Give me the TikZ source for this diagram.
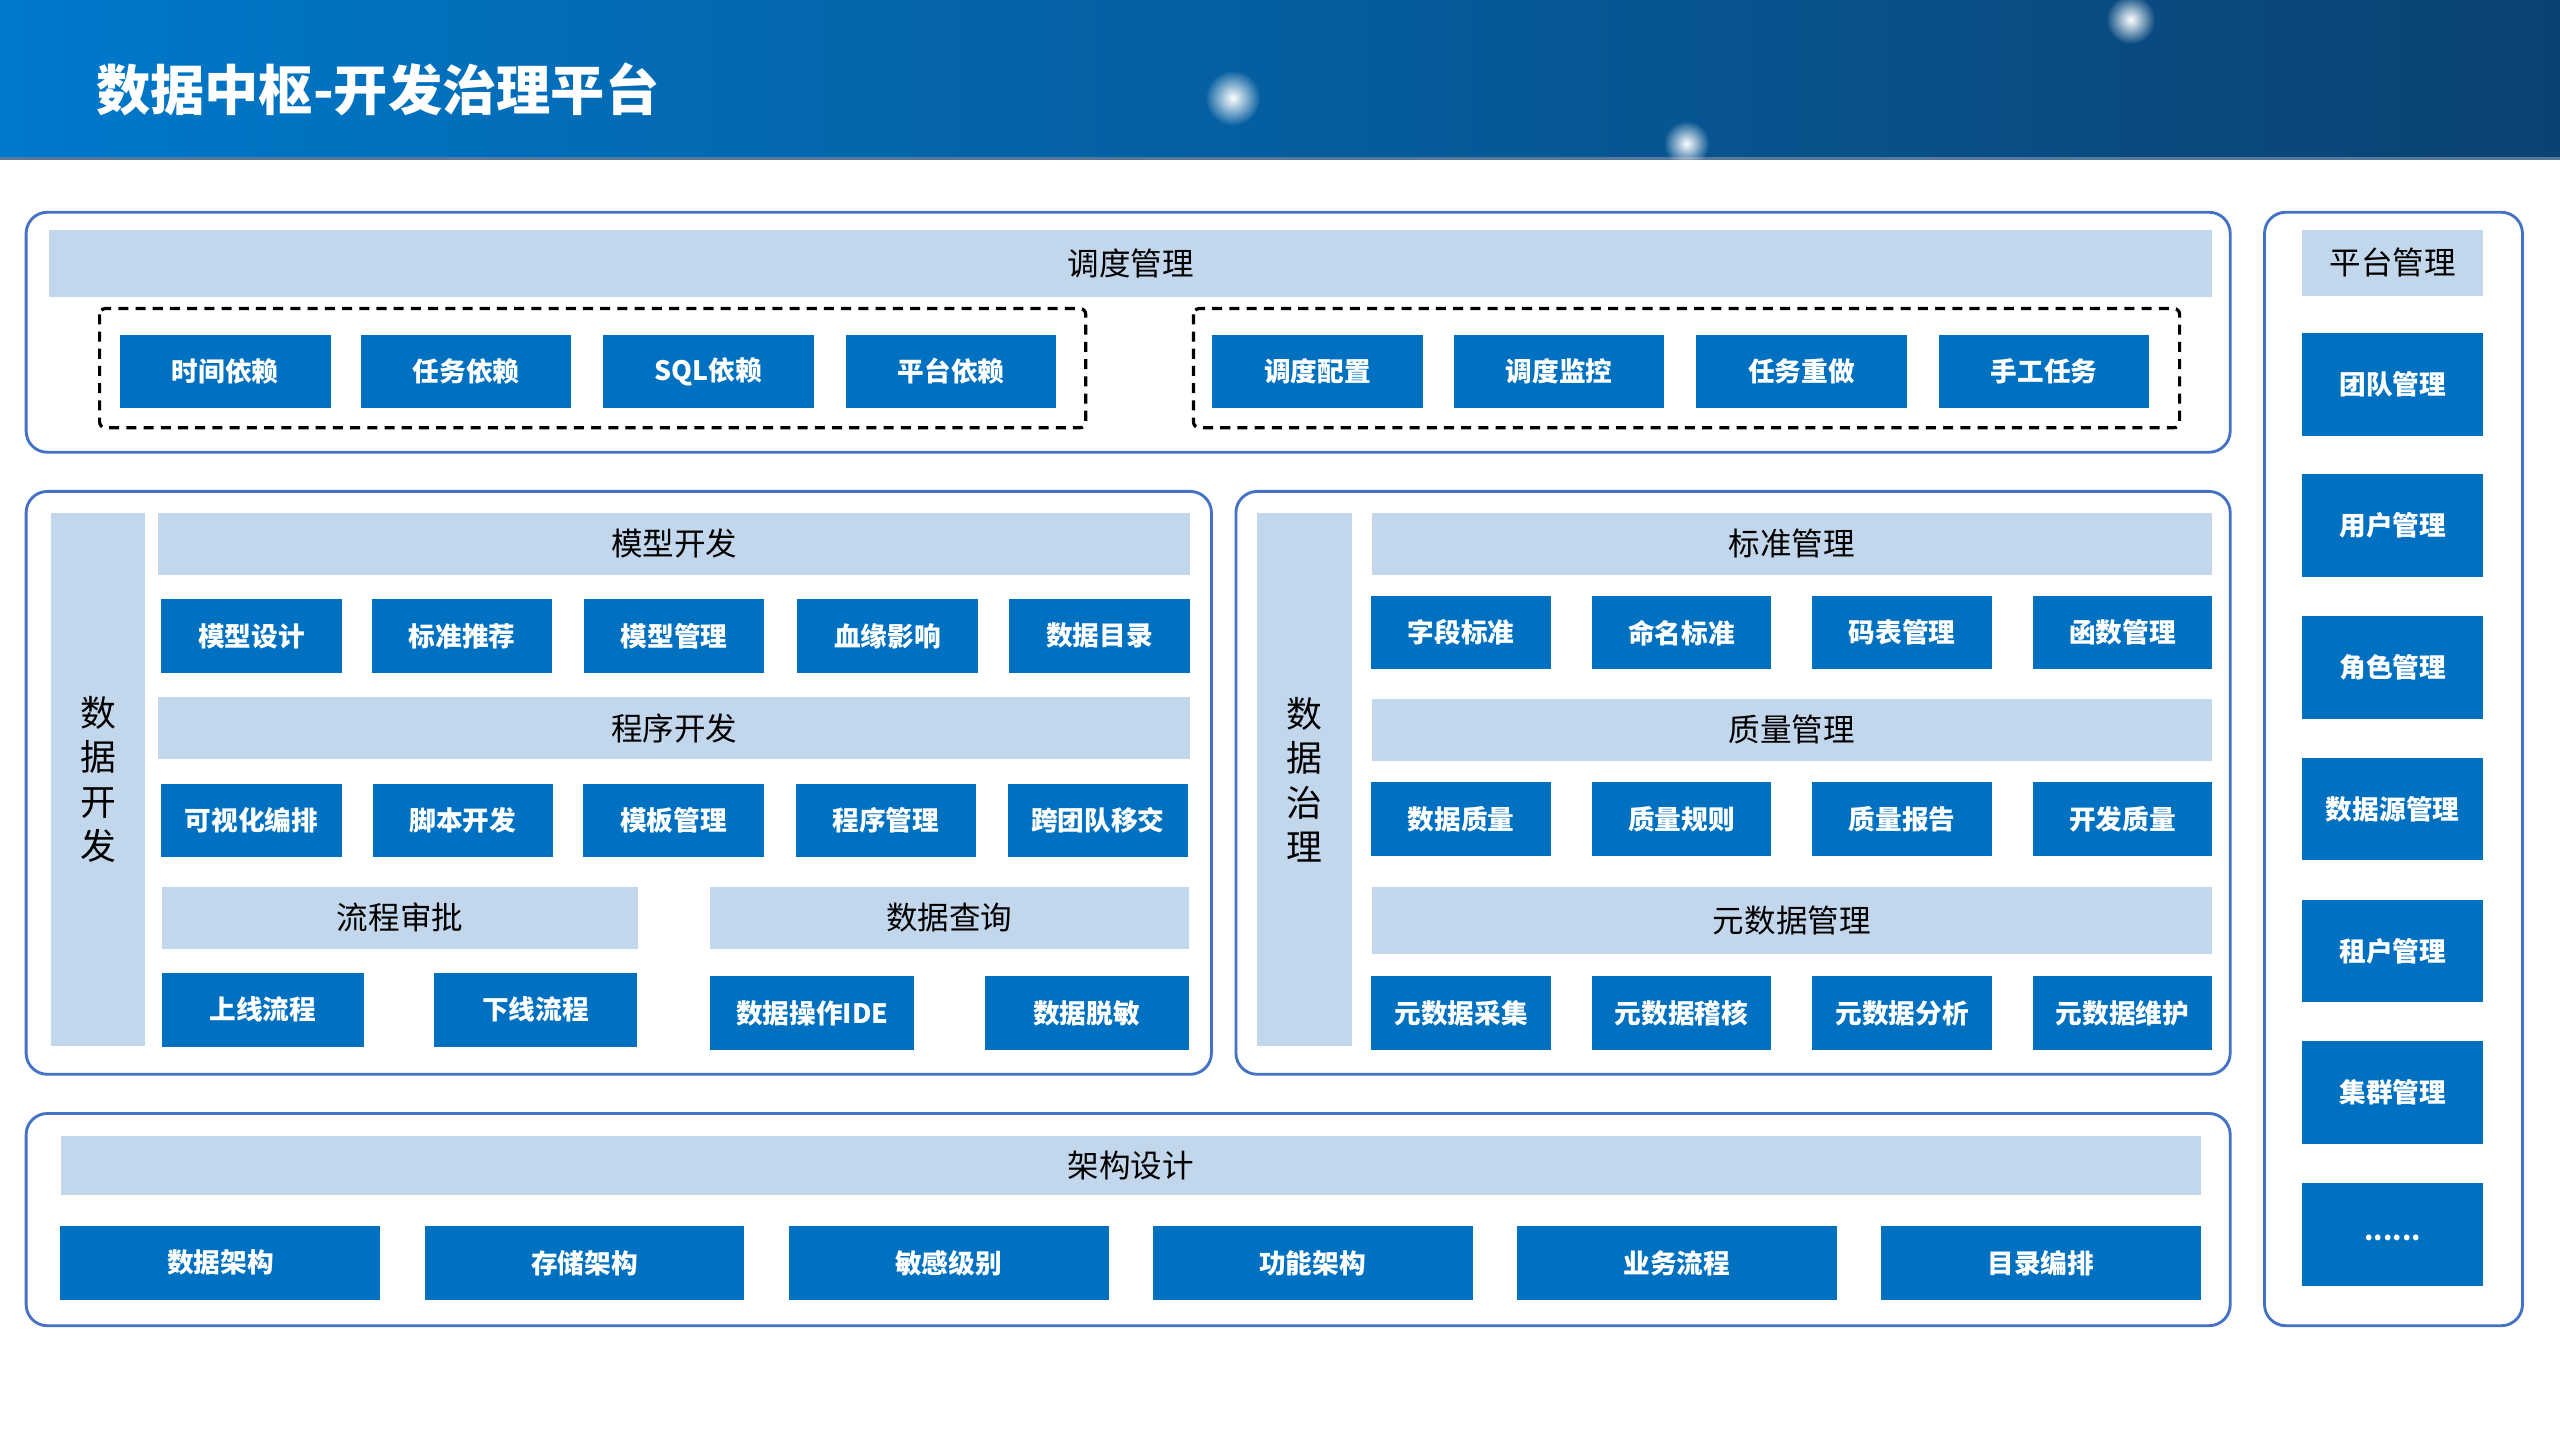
\documentclass[tikz,border=0pt]{standalone}
\usepackage{fontspec}
\usetikzlibrary{fadings}
\newfontfamily\cjk{Noto Sans CJK SC}
\definecolor{btnblue}{HTML}{0070C0}
\definecolor{barblue}{HTML}{C3D7EC}
\definecolor{lineblue}{HTML}{4472C4}
\definecolor{headleft}{HTML}{0079CB}
\definecolor{headmid}{HTML}{0067B2}
\definecolor{headright}{HTML}{0B4272}
\definecolor{headedge}{HTML}{56789A}
\tikzfading[name=glow, inner color=transparent!0, outer color=transparent!100]

\begin{document}
\begin{tikzpicture}[x=0.02cm, y=-0.02cm,
  every node/.style={inner sep=0pt, outer sep=0pt},
  btn/.style={fill=btnblue, text=white, font=\cjk\bfseries\fontsize{9.3}{11}\selectfont, minimum height=0.9cm},
  bar/.style={fill=barblue, text=black, font=\cjk\fontsize{11}{13}\selectfont, minimum height=0.78cm},
  side/.style={fill=barblue, text=black, font=\cjk\fontsize{12.5}{15.5}\selectfont, align=center, minimum width=1.16cm, minimum height=6.54cm},
  panel/.style={draw=lineblue, line width=1pt, rounded corners=0.26cm},
  dashbox/.style={draw=black, line width=1.1pt, dash pattern=on 3.5pt off 2.5pt, rounded corners=2pt}]
\useasboundingbox (0,0) rectangle (1568,882);

% header band
\shade[left color=headleft, middle color=headmid, right color=headright] (0,0) rectangle (1568,97);
\draw[headedge, line width=1pt] (0,97) -- (1568,97);
\fill[white, path fading=glow] (755,60) circle (17);
\fill[white, path fading=glow] (1305,12) circle (15);
\fill[white, path fading=glow] (1033,88) circle (14);
\node[anchor=west, text=white, font=\cjk\bfseries\fontsize{18.9}{22}\selectfont] (title) at (59,55) {数据中枢-开发治理平台};

% panels
\draw[panel] (16,130) rectangle (1366,277);
\draw[panel] (16,301) rectangle (742,658);
\draw[panel] (757,301) rectangle (1366,658);
\draw[panel] (16,682) rectangle (1366,812);
\draw[panel] (1387,130) rectangle (1545,812);

% scheduling
\node[bar, minimum width=26.5cm, minimum height=0.82cm] (sched) at (692.5,161.5) {调度管理};
\draw[dashbox] (61,189) rectangle (665,262);
\draw[dashbox] (731,189) rectangle (1335,262);
\node[btn, minimum width=2.58cm] (timedep) at (138,227.5) {时间依赖};
\node[btn, minimum width=2.58cm] (taskdep) at (285.5,227.5) {任务依赖};
\node[btn, minimum width=2.58cm] (sqldep) at (434,227.5) {SQL依赖};
\node[btn, minimum width=2.58cm] (platdep) at (582.5,227.5) {平台依赖};
\node[btn, minimum width=2.58cm] (schedcfg) at (807,227.5) {调度配置};
\node[btn, minimum width=2.58cm] (schedmon) at (955,227.5) {调度监控};
\node[btn, minimum width=2.58cm] (redo) at (1103.5,227.5) {任务重做};
\node[btn, minimum width=2.58cm] (manual) at (1252,227.5) {手工任务};

% data development
\node[side] (dev) at (60,477.5) {数\\据\\开\\发};
\node[bar, minimum width=12.64cm, minimum height=0.76cm] (model) at (413,333) {模型开发};
\node[btn, minimum width=2.21cm] (mdesign) at (154,389.5) {模型设计};
\node[btn, minimum width=2.21cm] (stdrec) at (283,389.5) {标准推荐};
\node[btn, minimum width=2.21cm] (mmanage) at (413,389.5) {模型管理};
\node[btn, minimum width=2.21cm] (lineage) at (543.5,389.5) {血缘影响};
\node[btn, minimum width=2.21cm] (catalog) at (673.5,389.5) {数据目录};
\node[bar, minimum width=12.64cm, minimum height=0.76cm] (prog) at (413,446) {程序开发};
\node[btn, minimum width=2.21cm] (visual) at (154,502.5) {可视化编排};
\node[btn, minimum width=2.21cm] (script) at (283.5,502.5) {脚本开发};
\node[btn, minimum width=2.21cm] (template) at (412.5,502.5) {模板管理};
\node[btn, minimum width=2.21cm] (pmanage) at (542.5,502.5) {程序管理};
\node[btn, minimum width=2.21cm] (handover) at (672.5,502.5) {跨团队移交};
\node[bar, minimum width=5.84cm, minimum height=0.76cm] (flow) at (245,562) {流程审批};
\node[bar, minimum width=5.86cm, minimum height=0.76cm] (query) at (581.5,562) {数据查询};
\node[btn, minimum width=2.48cm] (online) at (161,618.5) {上线流程};
\node[btn, minimum width=2.48cm] (offline) at (328,618.5) {下线流程};
\node[btn, minimum width=2.5cm] (ide) at (497.5,620.5) {数据操作IDE};
\node[btn, minimum width=2.5cm] (mask) at (665.5,620.5) {数据脱敏};

% data governance
\node[side] (gov) at (799,477.5) {数\\据\\治\\理};
\node[bar, minimum width=10.3cm, minimum height=0.76cm] (std) at (1097.5,333) {标准管理};
\node[btn, minimum width=2.2cm] (fieldstd) at (895,387.5) {字段标准};
\node[btn, minimum width=2.2cm] (namestd) at (1030,387.5) {命名标准};
\node[btn, minimum width=2.2cm] (codetab) at (1165,387.5) {码表管理};
\node[btn, minimum width=2.2cm] (func) at (1300,387.5) {函数管理};
\node[bar, minimum width=10.3cm, minimum height=0.76cm] (qual) at (1097.5,447) {质量管理};
\node[btn, minimum width=2.2cm] (dq) at (895,501.5) {数据质量};
\node[btn, minimum width=2.2cm] (qrule) at (1030,501.5) {质量规则};
\node[btn, minimum width=2.2cm] (qreport) at (1165,501.5) {质量报告};
\node[btn, minimum width=2.2cm] (devq) at (1300,501.5) {开发质量};
\node[bar, minimum width=10.3cm, minimum height=0.82cm] (meta) at (1097.5,564) {元数据管理};
\node[btn, minimum width=2.2cm] (mcollect) at (895,620.5) {元数据采集};
\node[btn, minimum width=2.2cm] (maudit) at (1030,620.5) {元数据稽核};
\node[btn, minimum width=2.2cm] (manalyze) at (1165,620.5) {元数据分析};
\node[btn, minimum width=2.2cm] (mmaint) at (1300,620.5) {元数据维护};

% architecture
\node[bar, minimum width=26.22cm, minimum height=0.72cm] (arch) at (692.5,714) {架构设计};
\node[btn, minimum width=3.92cm] (darch) at (135,773.5) {数据架构};
\node[btn, minimum width=3.92cm] (sarch) at (358,773.5) {存储架构};
\node[btn, minimum width=3.92cm] (sens) at (581,773.5) {敏感级别};
\node[btn, minimum width=3.92cm] (farch) at (804,773.5) {功能架构};
\node[btn, minimum width=3.92cm] (bflow) at (1027,773.5) {业务流程};
\node[btn, minimum width=3.92cm] (dirarr) at (1250,773.5) {目录编排};

% platform management
\node[bar, minimum width=2.22cm, minimum height=0.8cm] (plat) at (1465.5,161) {平台管理};
\node[btn, minimum width=2.22cm, minimum height=1.26cm] (team) at (1465.5,235.5) {团队管理};
\node[btn, minimum width=2.22cm, minimum height=1.26cm] (user) at (1465.5,322) {用户管理};
\node[btn, minimum width=2.22cm, minimum height=1.26cm] (role) at (1465.5,409) {角色管理};
\node[btn, minimum width=2.22cm, minimum height=1.26cm] (source) at (1465.5,495.5) {数据源管理};
\node[btn, minimum width=2.22cm, minimum height=1.26cm] (tenant) at (1465.5,582.5) {租户管理};
\node[btn, minimum width=2.22cm, minimum height=1.26cm] (cluster) at (1465.5,669) {集群管理};
\node[btn, minimum width=2.22cm, minimum height=1.26cm, text height=0.16cm, text depth=0pt] (more) at (1465.5,756) {......};
\end{tikzpicture}
\end{document}
